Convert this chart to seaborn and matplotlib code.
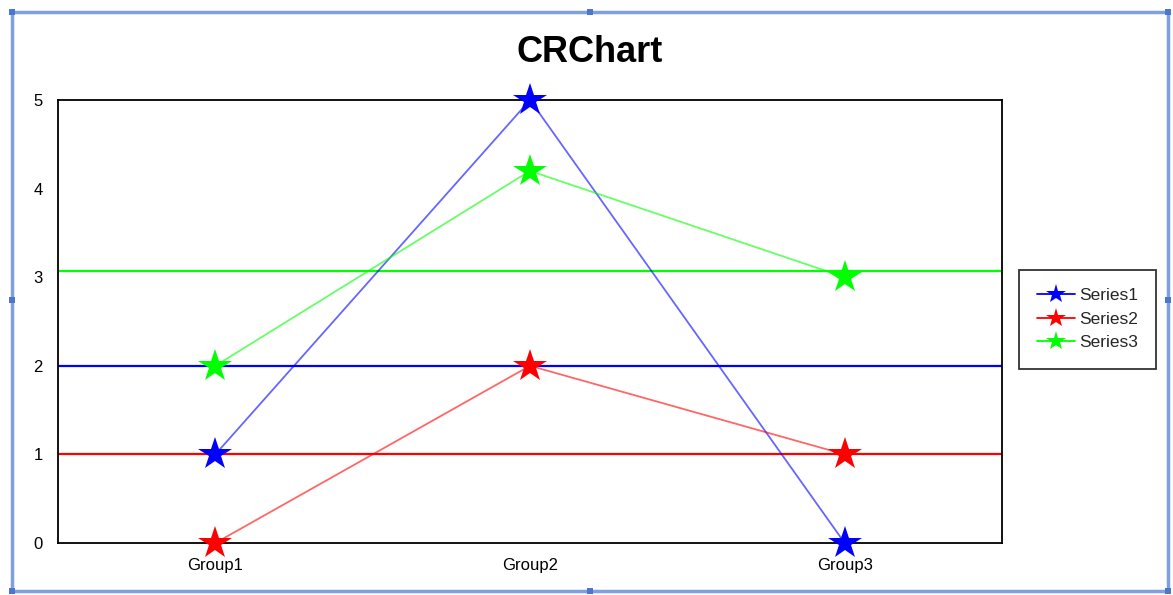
import matplotlib
matplotlib.use("Agg")
import matplotlib.pyplot as plt
from matplotlib.patches import Rectangle
import numpy as np
import pandas as pd
import seaborn as sns

# Chart data
groups = ["Group1", "Group2", "Group3"]
series_names = ["Series1", "Series2", "Series3"]
series1 = [1, 5, 0]
series2 = [0, 2, 1]
series3 = [2, 4.2, 3]
colors = ["#0000ff", "#ff0000", "#00ff00"]

sns.set_theme(style="white")
plt.rcParams["font.family"] = ["Liberation Sans", "DejaVu Sans"]

values = [series1, series2, series3]
df = pd.DataFrame({
    "group": np.tile(np.arange(len(groups)), len(series_names)),
    "value": np.concatenate(values),
    "series": np.repeat(series_names, len(groups)),
})

fig = plt.figure(figsize=(11.73, 5.95), dpi=100)
ax = fig.add_axes([58 / 1173, 1 - 543 / 595, (1002 - 58) / 1173, (543 - 100) / 595])

palette = dict(zip(series_names, colors))
sns.lineplot(data=df, x="group", y="value", hue="series", palette=palette,
             marker="*", markersize=25, markeredgewidth=0, linewidth=1.3,
             ax=ax, legend=False)

# lighter connecting lines, solid markers drawn over the frame
for line, col in zip(ax.get_lines(), colors):
    rgba = matplotlib.colors.to_rgba(col)
    line.set_alpha(None)
    line.set_color((*rgba[:3], 0.6))
    line.set_markerfacecolor(col)
    line.set_markeredgecolor(col)
    line.set_clip_on(False)
    line.set_zorder(3)

# average line for each series
for vals, col in zip(values, colors):
    ax.axhline(np.mean(vals), color=col, linewidth=1.6, zorder=1)

ax.set_xlim(-0.5, 2.5)
ax.set_ylim(0, 5)
ax.set_xticks(range(len(groups)))
ax.set_xticklabels(groups)
ax.set_yticks(range(0, 6))
ax.set_xlabel("")
ax.set_ylabel("")
ax.tick_params(axis="both", length=0, labelsize=12, colors="black")
ax.tick_params(axis="y", pad=11)
ax.tick_params(axis="x", pad=11)
for sp in ax.spines.values():
    sp.set_color("black")
    sp.set_linewidth(1.3)
    sp.set_visible(True)
    sp.set_zorder(2)

fig.text(590 / 1173, 1 - 52 / 595, "CRChart", ha="center", va="center",
         fontsize=26, fontweight="bold", color="black")

handles = [plt.Line2D([], [], color=c, marker="*", markersize=15,
                      markeredgewidth=0, linewidth=1.3) for c in colors]
leg = fig.legend(handles, series_names, loc="upper left",
                 bbox_to_anchor=(1019 / 1173, 1 - 270 / 595),
                 frameon=True, fancybox=False, fontsize=12.5,
                 handlelength=2.2, handletextpad=0.2, borderpad=1.05,
                 labelspacing=0.48, borderaxespad=0)
leg.get_frame().set_edgecolor("black")
leg.get_frame().set_linewidth(1.3)

# outer frame around the chart area
border = "#7fa0dc"
fig.patches.append(Rectangle((12 / 1173, 1 - 591 / 595), (1168 - 12) / 1173,
                             (591 - 12) / 595, transform=fig.transFigure,
                             fill=False, edgecolor=border, linewidth=2.5))
handle_col = "#4a78d0"
for hx, hy in [(12, 12), (590, 12), (12, 300), (1168, 300), (12, 591),
               (590, 591), (1168, 591), (1168, 12)]:
    fig.patches.append(Rectangle(((hx - 3) / 1173, 1 - (hy + 3) / 595), 6 / 1173, 6 / 595,
                                 transform=fig.transFigure, facecolor=handle_col,
                                 edgecolor="none"))

fig.savefig("out.png", dpi=100, facecolor="white")
